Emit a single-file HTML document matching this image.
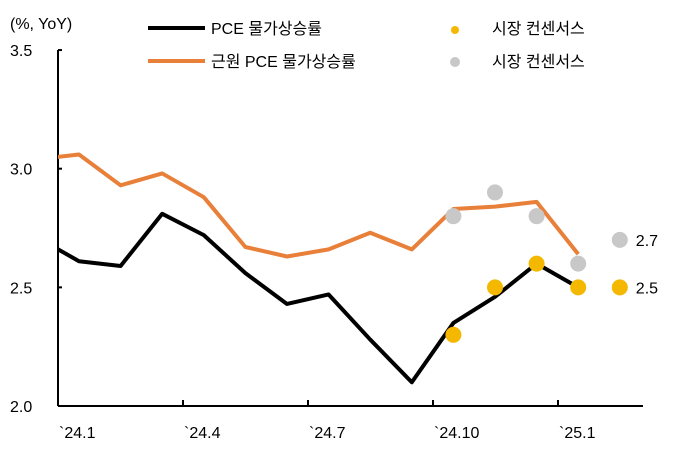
<!DOCTYPE html>
<html><head><meta charset="utf-8"><style>
body{margin:0;background:#fff}
text{font-family:"Liberation Sans","Noto Sans CJK KR",sans-serif;font-size:16px;fill:#000}
</style></head><body>
<svg width="676" height="448">
<defs><clipPath id="pc"><rect x="58" y="0" width="600" height="448"/></clipPath></defs>
<g id="axes"></g>
<g id="series" clip-path="url(#pc)"></g>
<g id="dots"></g>
<g>
<text x="10" y="29">(%, YoY)</text>
<line x1="148" y1="28" x2="205" y2="28" stroke="#000" stroke-width="4"/>
<text x="211" y="34">PCE 물가상승률</text>
<line x1="148" y1="61" x2="205" y2="61" stroke="#E8803A" stroke-width="4"/>
<text x="211" y="67">근원 PCE 물가상승률</text>
<circle cx="455" cy="30" r="4" fill="#F5B800"/>
<text x="492" y="34">시장 컨센서스</text>
<circle cx="455" cy="62" r="5" fill="#C8C8C8"/>
<text x="492" y="67">시장 컨센서스</text>
</g>
</svg>
<script>
const months=["`23.12","`24.1","`24.2","`24.3","`24.4","`24.5","`24.6","`24.7","`24.8","`24.9","`24.10","`24.11","`24.12","`25.1","`25.2"];
const pce=[2.71,2.61,2.59,2.81,2.72,2.56,2.43,2.47,2.28,2.10,2.35,2.46,2.60,2.50];
const corePce=[3.04,3.06,2.93,2.98,2.88,2.67,2.63,2.66,2.73,2.66,2.83,2.84,2.86,2.64];
const consYellow=[null,null,null,null,null,null,null,null,null,null,2.3,2.5,2.6,2.5,2.5];
const consGray=[null,null,null,null,null,null,null,null,null,null,2.8,2.9,2.8,2.6,2.7];
const yTicks=["2.0","2.5","3.0","3.5"];
const xTickLabels=["`24.1","`24.4","`24.7","`24.10","`25.1"];
const NS="http://www.w3.org/2000/svg";
const X=i=>37.4+41.6*i, Y=v=>406-(v-2.0)*237.3;
function mk(t,a,p){const e=document.createElementNS(NS,t);for(const k in a)e.setAttribute(k,a[k]);p.appendChild(e);return e;}
const ax=document.getElementById('axes'),se=document.getElementById('series'),dt=document.getElementById('dots');
let l=mk('line',{x1:58,y1:50,x2:58,y2:406,stroke:'#000','stroke-width':2},ax);


l=mk('line',{x1:58,y1:406,x2:643,y2:406,stroke:'#000','stroke-width':2},ax);


yTicks.forEach(t=>{const y=Y(parseFloat(t));mk('line',{x1:58,y1:y,x2:62,y2:y,stroke:'#000','stroke-width':2},ax);
const e=mk('text',{x:10,y:y+6},ax);e.textContent=t;

});
xTickLabels.forEach((t,k)=>{const x=58+k*125;if(k>0)mk('line',{x1:x,y1:400,x2:x,y2:406,stroke:'#000','stroke-width':2},ax);
const e=mk('text',{x:x+1,y:438},ax);e.textContent=t;

});
function line(arr,c,n){const p=mk('polyline',{points:arr.map((v,i)=>X(i)+','+Y(v)).join(' '),fill:'none',stroke:c,'stroke-width':4,'stroke-linejoin':'round'},se);

}
line(corePce,'#E8803A','core-pce-line');
line(pce,'#000','pce-line');
function dots(arr,c,n){arr.forEach((v,i)=>{if(v==null)return;const e=mk('circle',{cx:X(i),cy:Y(v),r:8,fill:c},dt);

});}
dots(consGray,'#C8C8C8','consensus-gray-dot');
dots(consYellow,'#F5B800','consensus-yellow-dot');
const li=consGray.length-1;
let t=mk('text',{x:X(li)+16,y:Y(consGray[li])+6},dt);t.textContent=consGray[li].toFixed(1);


t=mk('text',{x:X(li)+16,y:Y(consYellow[li])+6},dt);t.textContent=consYellow[li].toFixed(1);


</script>
</body></html>
